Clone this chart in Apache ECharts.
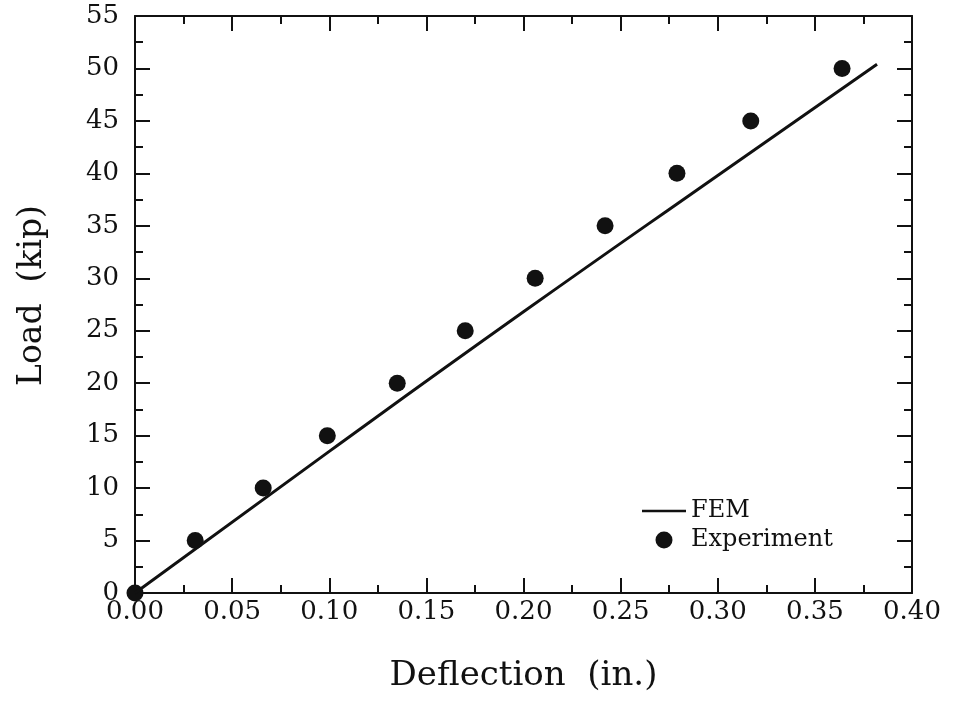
<!DOCTYPE html>
<html>
<head>
<meta charset="utf-8">
<script src="https://cdn.jsdelivr.net/npm/echarts@6/dist/echarts.min.js"></script>
<style>
  html, body { margin: 0; padding: 0; background: #fff; }
  #main { width: 970px; height: 706px; }
</style>
</head>
<body>
<div id="main"></div>
<script>
var chartDom = document.getElementById('main');
var myChart = echarts.init(chartDom, null, { renderer: 'canvas' });

// measured test points (deflection in., load kip)
const expDeflection = [0, 0.031, 0.066, 0.099, 0.135, 0.170, 0.206, 0.242, 0.279, 0.317, 0.364];
const expLoad = [0, 5, 10, 15, 20, 25, 30, 35, 40, 45, 50];

// FEM curve
const femDeflection = [0, 0.10, 0.20, 0.30, 0.382];
const femLoad = [0, 13.5, 26.8, 39.8, 50.4];

const font = 'DejaVu Serif';
const ink = '#111';

const expData = expDeflection.map((d, i) => [d, expLoad[i]]);
const femData = femDeflection.map((d, i) => [d, femLoad[i]]);

function boxAxis(extra) {
    return Object.assign({
        type: 'value',
        axisLine: { show: true, onZero: false, lineStyle: { color: ink, width: 2 } },
        axisTick: { show: true, inside: true, length: 15, lineStyle: { color: ink, width: 2 } },
        minorTick: { show: true, splitNumber: 2, length: 8, lineStyle: { color: ink, width: 2 } },
        splitLine: { show: false },
        axisLabel: { show: false }
    }, extra);
}

var option = {
    animation: false,
    backgroundColor: '#fff',
    grid: { left: 135, right: 58, top: 16, bottom: 113 },
    legend: {
        orient: 'vertical',
        left: 637,
        top: 494,
        itemWidth: 44,
        itemHeight: 17,
        itemGap: 5,
        textStyle: { fontFamily: font, fontSize: 24, lineHeight: 22, color: ink },
        data: [
            { name: 'FEM', icon: 'path://M0,0 L100,0 L100,6 L0,6 Z' },
            { name: 'Experiment', icon: 'circle' }
        ]
    },
    xAxis: [
        boxAxis({
            min: 0, max: 0.4, interval: 0.05,
            position: 'bottom',
            name: 'Deflection  (in.)',
            nameLocation: 'middle',
            nameGap: 66,
            nameTextStyle: { fontFamily: font, fontSize: 34, color: ink },
            axisLabel: {
                show: true, margin: 6, color: ink, fontFamily: font, fontSize: 26,
                formatter: v => v.toFixed(2)
            }
        }),
        boxAxis({ min: 0, max: 0.4, interval: 0.05, position: 'top' })
    ],
    yAxis: [
        boxAxis({
            min: 0, max: 55, interval: 5,
            position: 'left',
            name: 'Load  (kip)',
            nameLocation: 'middle',
            nameGap: 86,
            nameTextStyle: { fontFamily: font, fontSize: 33, color: ink, padding: [0, 0, 0, 18] },
            axisLabel: { show: true, margin: 16, color: ink, fontFamily: font, fontSize: 26 }
        }),
        boxAxis({ min: 0, max: 55, interval: 5, position: 'right' })
    ],
    series: [
        {
            name: 'FEM',
            type: 'line',
            data: femData,
            symbol: 'none',
            smooth: true,
            lineStyle: { color: ink, width: 3 },
            itemStyle: { color: ink }
        },
        {
            name: 'Experiment',
            type: 'scatter',
            data: expData,
            symbol: 'circle',
            symbolSize: 17,
            itemStyle: { color: ink, opacity: 1 }
        }
    ]
};

option && myChart.setOption(option);
</script>
</body>
</html>
